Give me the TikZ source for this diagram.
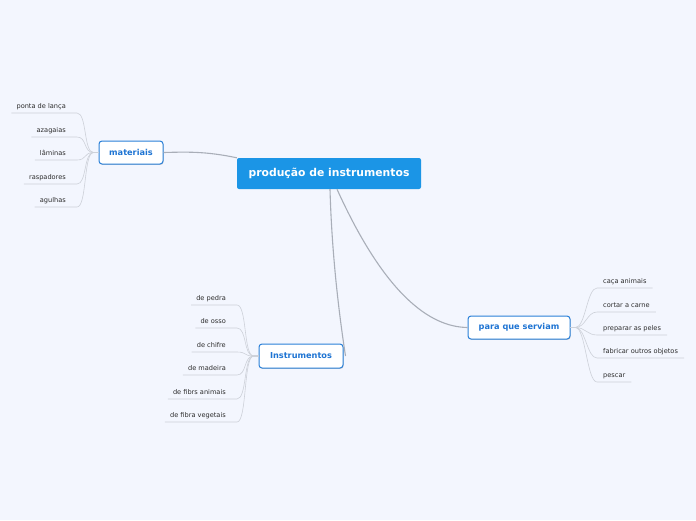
\documentclass[tikz,border=0pt]{standalone}
\usepackage{fontspec}
\setmainfont{DejaVu Sans}
\usetikzlibrary{shadows}
\definecolor{bgc}{HTML}{F3F6FE}
\definecolor{cblue}{HTML}{1B95E6}
\definecolor{tblue}{HTML}{1E74D3}
\definecolor{bblue}{HTML}{2A80D8}
\definecolor{lgray}{HTML}{CDD1D9}
\definecolor{mgray}{HTML}{A9AEB8}
\definecolor{ltext}{HTML}{2B2B2B}
\tikzset{
  central/.style={fill=cblue, rounded corners=2pt, text=white, font=\bfseries\fontsize{10.8}{12}\selectfont, minimum width=184pt, minimum height=31pt, inner sep=0pt},
  topic/.style={draw=bblue, line width=1pt, fill=white, rounded corners=3pt, text=tblue, font=\bfseries\fontsize{8.2}{9}\selectfont, minimum height=23pt, inner sep=0pt, drop shadow={shadow xshift=0.6pt, shadow yshift=-0.9pt, opacity=0.35}},
  leaf/.style={text=ltext, font=\fontsize{6.6}{7.5}\selectfont, inner xsep=5pt, inner ysep=3pt, text height=5pt, text depth=1.5pt},
  leafline/.style={draw=lgray, line width=0.6pt},
  mainline/.style={draw=mgray, line width=1.1pt},
}
\begin{document}
\begin{tikzpicture}[x=1pt,y=-1pt]
\useasboundingbox[fill=bgc] (0,0) rectangle (696,520);
% nodes
\node[central] (c) at (329,173.5) {produção de instrumentos};
\node[topic, minimum width=64pt] (mat) at (131,152.5) {materiais};
\node[topic, minimum width=84pt, minimum height=24pt] (ins) at (301,356) {Instrumentos};
\node[topic, minimum width=102pt] (par) at (519,327.5) {para que serviam};
% main connectors
\draw[mainline] (c.north west) .. controls (205,151) and (185,152) .. (mat.east);
\draw[mainline] ([xshift=1pt]c.south) .. controls (332,260) and (340,320) .. ([xshift=2pt]ins.east);
\draw[mainline] ([xshift=8pt]c.south) .. controls (385,295) and (430,327) .. (par.west);
% materiais leaves
\node[leaf, anchor=south east] (m1) at (71,113) {ponta de lança};
\node[leaf, anchor=south east] (m2) at (71,137) {azagaias};
\node[leaf, anchor=south east] (m3) at (71,160) {lâminas};
\node[leaf, anchor=south east] (m4) at (71,184) {raspadores};
\node[leaf, anchor=south east] (m5) at (71,207) {agulhas};
\foreach \n in {m1,m2,m3,m4,m5}
  \draw[leafline] (mat.west) -- +(-5,0) .. controls +(-10,0) and +(10,0) .. ([xshift=6pt]\n.south east) -- (\n.south west);
% Instrumentos leaves
\node[leaf, anchor=south east] (i1) at (231,305) {de pedra};
\node[leaf, anchor=south east] (i2) at (231,328) {de osso};
\node[leaf, anchor=south east] (i3) at (231,352) {de chifre};
\node[leaf, anchor=south east] (i4) at (231,375) {de madeira};
\node[leaf, anchor=south east] (i5) at (231,399) {de fibrs animais};
\node[leaf, anchor=south east] (i6) at (231,422) {de fibra vegetais};
\foreach \n in {i1,i2,i3,i4,i5,i6}
  \draw[leafline] (ins.west) -- +(-5,0) .. controls +(-10,0) and +(10,0) .. ([xshift=6pt]\n.south east) -- (\n.south west);
% para que serviam leaves
\node[leaf, anchor=south west, inner xsep=6pt] (p1) at (597,288) {caça animais};
\node[leaf, anchor=south west, inner xsep=6pt] (p2) at (597,312) {cortar a carne};
\node[leaf, anchor=south west, inner xsep=6pt] (p3) at (597,335) {preparar as peles};
\node[leaf, anchor=south west, inner xsep=6pt] (p4) at (597,358) {fabricar outros objetos};
\node[leaf, anchor=south west, inner xsep=6pt] (p5) at (597,382) {pescar};
\foreach \n in {p1,p2,p3,p4,p5}
  \draw[leafline] (par.east) -- +(5,0) .. controls +(10,0) and +(-10,0) .. (\n.south west) -- (\n.south east);
\end{tikzpicture}
\end{document}
